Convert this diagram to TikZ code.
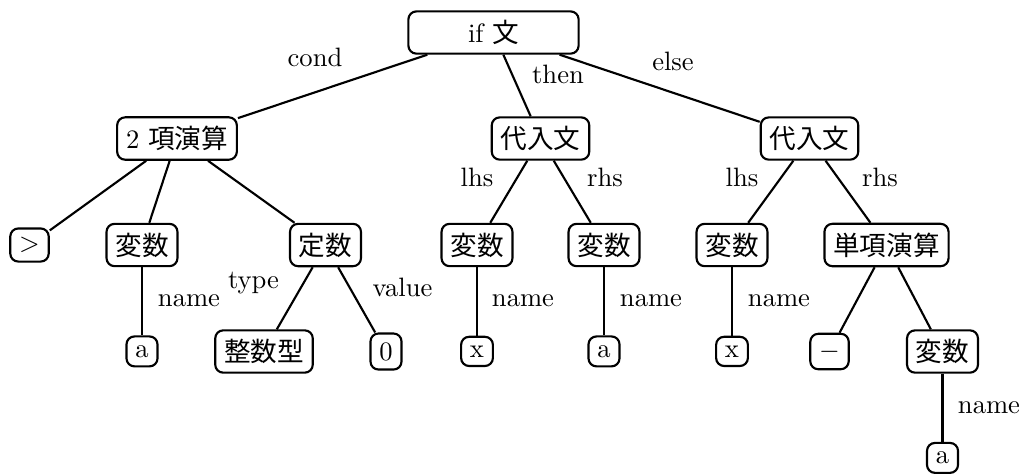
\documentclass[tikz,border=0pt]{standalone}
\usepackage{fontspec}
\newfontfamily\jpfont{Noto Sans CJK JP}

\begin{document}
\begin{tikzpicture}[x=0.376pt, y=-0.376pt, node distance=40pt, thick,
    box/.style={rectangle, draw, rounded corners=3pt},
    lbl/.style={inner sep=2pt}]
        \useasboundingbox (0,0) rectangle (1022,473);

        \node[box, minimum width=64pt] (ifs) at (493.5,32.5) {if {\jpfont 文}};

        \node[box] (binop) at (177,138.5) {2 {\jpfont 項演算}};
        \node[box] (asgn1) at (540.5,138.5) {\jpfont 代入文};
        \node[box] (asgn2) at (809.5,138.5) {\jpfont 代入文};

        \node[box] (gt) at (29.5,245) {$>$};
        \node[box] (var1) at (142,245) {\jpfont 変数};
        \node[box] (const) at (325.5,245) {\jpfont 定数};
        \node[box] (var2) at (477,245) {\jpfont 変数};
        \node[box] (var3) at (604,245) {\jpfont 変数};
        \node[box] (var4) at (732,245) {\jpfont 変数};
        \node[box] (unop) at (886.5,245) {\jpfont 単項演算};

        \node[box, below of=var1] (a1) {a};
        \node[box] (inttype) at (264,351.5) {\jpfont 整数型};
        \node[box] (zero) at (386,351.5) {0};
        \node[box, below of=var2] (x1) {x};
        \node[box, below of=var3] (a2) {a};
        \node[box, below of=var4] (x2) {x};
        \node[box] (minus) at (829.5,351.5) {$-$};
        \node[box] (var5) at (942.5,351.5) {\jpfont 変数};
        \node[box, below of=var5] (a3) {a};

        % edge labels
        \node[lbl] (lcond) at (315,57.5) {cond};
        \node[lbl] (lthen) at (558,74) {then};
        \node[lbl] (lelse) at (673,61) {else};
        \node[lbl] (llhs1) at (477,177.5) {lhs};
        \node[lbl] (lrhs1) at (605,177.5) {rhs};
        \node[lbl] (llhs2) at (742,177.5) {lhs};
        \node[lbl] (lrhs2) at (880,177.5) {rhs};
        \node[lbl] (ltype) at (253.5,282.7) {type};
        \node[lbl] (lvalue) at (402.5,287.5) {value};
        \node[lbl] (lname1) at (189,301) {name};
        \node[lbl] (lname2) at (523,301) {name};
        \node[lbl] (lname3) at (651,301) {name};
        \node[lbl] (lname4) at (779,301) {name};
        \node[lbl] (lname5) at (989,407.5) {name};

        \draw (ifs) -- (binop);
        \draw (ifs) -- (asgn1);
        \draw (ifs) -- (asgn2);
        \draw (binop) -- (gt);
        \draw (binop) -- (var1);
        \draw (binop) -- (const);
        \draw (var1) -- (a1);
        \draw (const) -- (inttype);
        \draw (const) -- (zero);
        \draw (asgn1) -- (var2);
        \draw (asgn1) -- (var3);
        \draw (var2) -- (x1);
        \draw (var3) -- (a2);
        \draw (asgn2) -- (var4);
        \draw (asgn2) -- (unop);
        \draw (var4) -- (x2);
        \draw (unop) -- (minus);
        \draw (unop) -- (var5);
        \draw (var5) -- (a3);
\end{tikzpicture}
\end{document}
